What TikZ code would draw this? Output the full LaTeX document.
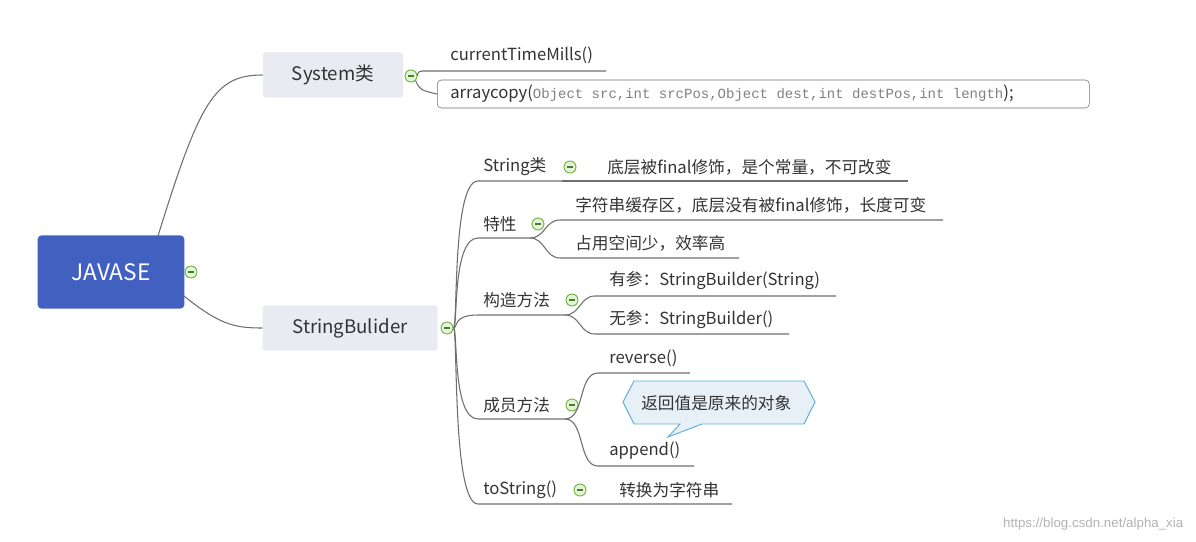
\documentclass[tikz,border=0pt]{standalone}
\usepackage{fontspec}
\setmainfont{Noto Sans CJK SC}
\newfontfamily\codefont{Liberation Mono}
\newfontfamily\wmfont{Liberation Sans}
\definecolor{jblue}{HTML}{4260C0}
\definecolor{boxg}{HTML}{E9EAF2}
\definecolor{ln}{HTML}{6E6E6E}
\definecolor{tx}{HTML}{333333}
\definecolor{mg}{HTML}{6DB33F}
\definecolor{mf}{HTML}{E4F3D8}
\definecolor{cfill}{HTML}{E8F0F7}
\definecolor{cline}{HTML}{5BB0D8}
\tikzset{
 lbl/.style={anchor=west,inner sep=0pt,text=tx,font=\fontsize{12.5}{14}\selectfont},
 conn/.style={draw=ln,line width=0.8pt},
 mcirc/.style={circle,draw=mg,fill=mf,line width=0.7pt,minimum size=9pt,inner sep=0pt},
}
\newcommand\mnode[2]{\node[mcirc] (#1) at #2 {}; \draw[mg!70!black,line width=0.8pt] ([xshift=-2.3pt]#1.center) -- ([xshift=2.3pt]#1.center);}
\begin{document}
\begin{tikzpicture}[x=0.75pt,y=-0.75pt]
\useasboundingbox (0,0) rectangle (1196,542);
% root
\node[fill=jblue,rounded corners=3pt,minimum width=110pt,minimum height=55pt,text=white,font=\fontsize{17}{20}\selectfont] (root) at (111,272) {JAVASE};
\mnode{mr}{(191,272)}
\node[fill=boxg,rounded corners=2pt,minimum width=105pt,minimum height=34pt,text=tx,font=\fontsize{14}{16}\selectfont] (sys) at (333,75) {System类};
\node[fill=boxg,rounded corners=2pt,minimum width=131pt,minimum height=34pt,text=tx,font=\fontsize{14}{16}\selectfont] (sb) at (350,328) {StringBulider};
\draw[conn] (158,236) .. controls (200,100) and (215,75) .. (sys.west);
\draw[conn] (184,296) .. controls (220,325) and (235,328) .. (sb.west);
% System children
\mnode{ms}{(411,76)}
\node[lbl] (ct) at (450,55) {currentTimeMills()};
\coordinate (ctl) at (422,71); \coordinate (ctr) at (606,71);
\draw[conn] (ms.east) .. controls (418,72) .. (ctl) -- (ctr);
\node[draw=ln,rounded corners=3pt,minimum width=489pt,minimum height=21pt,anchor=west,inner sep=0pt] (ac) at (437,94) {};
\node[lbl] (act) at (450,94) {arraycopy(\textcolor{gray}{\codefont\fontsize{10.5}{12}\selectfont Object src,int srcPos,Object dest,int destPos,int length});};
\draw[conn] (ms.south east) .. controls (420,90) .. (ac.west);
% StringBulider
\mnode{mb}{(447,328)}
\newcommand\branch[2]{\draw[conn] (mb.east) .. controls (458,328) and (452,#1) .. (478,#1) -- (#2,#1);}
\branch{181}{562}
\branch{238}{530}
\branch{315}{565}
\branch{419}{565}
\branch{504}{732}
\node[lbl] (s1) at (483,167) {String类};
\mnode{m1}{(570,167)}
\node[lbl] (s1a) at (607,167) {底层被final修饰，是个常量，不可改变};
\draw[conn] (562,181) -- (908,181);
\node[lbl] (s2) at (483,224) {特性};
\mnode{m2}{(538,224)}
\node[lbl] (s2a) at (575,205) {字符串缓存区，底层没有被final修饰，长度可变};
\node[lbl] (s2b) at (575,243) {占用空间少，效率高};
\draw[conn] (530,238) .. controls (545,238) and (545,220) .. (560,220) -- (943,220);
\draw[conn] (530,238) .. controls (545,238) and (545,258) .. (560,258) -- (739,258);
\node[lbl] (s3) at (483,300) {构造方法};
\mnode{m3}{(572,300)}
\node[lbl] (s3a) at (609,281) {有参：StringBuilder(String)};
\node[lbl] (s3b) at (609,320) {无参：StringBuilder()};
\draw[conn] (565,315) .. controls (580,315) and (580,296) .. (595,296) -- (836,296);
\draw[conn] (565,315) .. controls (580,315) and (580,334) .. (595,334) -- (789,334);
\node[lbl] (s4) at (483,405) {成员方法};
\mnode{m4}{(572,405)}
\node[lbl] (s4a) at (609,358) {reverse()};
\node[lbl] (s4b) at (609,451) {append()};
\draw[conn] (565,419) .. controls (585,419) and (578,373) .. (598,373) -- (690,373);
\draw[conn] (565,419) .. controls (585,419) and (578,466) .. (598,466) -- (694,466);
\draw[draw=cline,fill=cfill,line width=0.7pt] (623,402) -- (634,381) -- (804,381) -- (815,402) -- (804,424) -- (702,424) -- (668,437) -- (680,424) -- (634,424) -- cycle;
\node[lbl] (note) at (641,403) {返回值是原来的对象};
\node[lbl] (s5) at (483,490) {toString()};
\mnode{m5}{(580,490)}
\node[lbl] (s5a) at (619,490) {转换为字符串};
\node[anchor=east,text=gray!60,font=\wmfont\fontsize{10}{12}\selectfont] (wm) at (1188,524) {https://blog.csdn.net/alpha\_xia};
\end{tikzpicture}
\end{document}
